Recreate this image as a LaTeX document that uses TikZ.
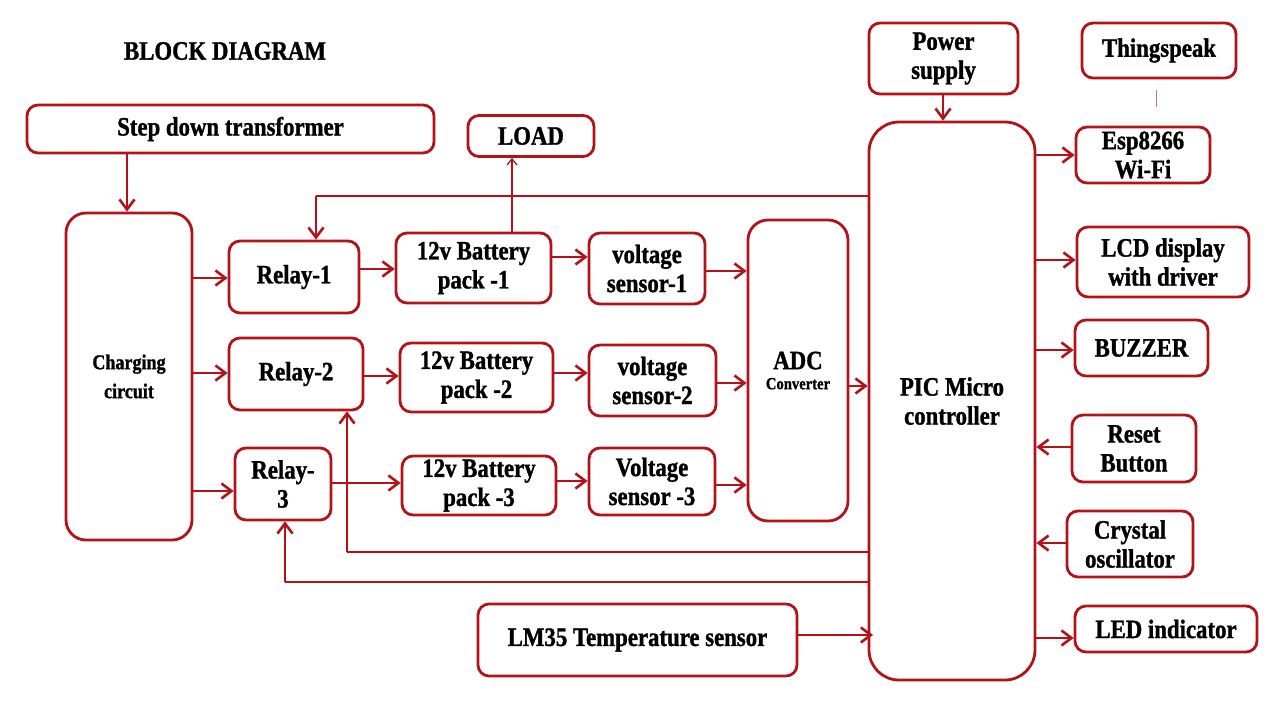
\documentclass[tikz,border=0pt]{standalone}
\usepackage{fontspec}
\setmainfont{Liberation Serif}[BoldFeatures={FakeStretch=0.86,FakeBold=1.2}]
\usetikzlibrary{arrows.meta}
\definecolor{dred}{RGB}{178,18,24}
\begin{document}
\begin{tikzpicture}[x=1pt,y=-1pt,
  box/.style={draw=dred,line width=2.8pt,rounded corners=11pt,inner sep=0pt,align=center,
    font=\bfseries\fontsize{26.5}{29}\selectfont,text=black},
  arr/.style={draw=dred,line width=2.6pt,-{Straight Barb[length=10pt,width=15pt,line width=2.6pt]}},
  thinl/.style={draw=dred,line width=1.3pt},
  thinarr/.style={draw=dred,line width=1.3pt,-{Straight Barb[length=6pt,width=10pt,line width=1.3pt]}}]
\useasboundingbox (0,0) rectangle (1280,720);
\fill[white] (0,0) rectangle (1280,720);

\node[font=\bfseries\fontsize{26.5}{29}\selectfont] (title) at (225,51) {BLOCK DIAGRAM};

\node[box,minimum width=407pt,minimum height=48pt] (step) at (230.5,129) {Step down transformer};
\node[box,minimum width=126pt,minimum height=41pt] (load) at (531,136) {LOAD};
\node[box,minimum width=149pt,minimum height=71pt] (power) at (943.5,58.5) {Power\\supply};
\node[box,minimum width=154pt,minimum height=55pt] (thing) at (1159,50.5) {Thingspeak};
\node[box,minimum width=134pt,minimum height=56pt] (esp) at (1143,155) {Esp8266\\Wi-Fi};
\node[box,rounded corners=20pt,minimum width=126pt,minimum height=327pt] (charge) at (129,376.5) {\fontsize{21}{29}\selectfont Charging\\\fontsize{21}{29}\selectfont circuit};
\node[box,minimum width=130pt,minimum height=72pt] (r1) at (294,277) {Relay-1};
\node[box,minimum width=155pt,minimum height=70pt] (b1) at (473.5,268) {12v Battery\\pack -1};
\node[box,minimum width=116pt,minimum height=71pt] (v1) at (647,268.5) {voltage\\sensor-1};
\node[box,rounded corners=20pt,minimum width=100pt,minimum height=301pt] (adc) at (798,370.5) {ADC\\[-9pt]\fontsize{17}{18}\selectfont Converter};
\node[box,rounded corners=30pt,minimum width=166pt,minimum height=558pt] (pic) at (952,401) {PIC Micro\\controller};
\node[box,minimum width=172pt,minimum height=70pt] (lcd) at (1163,262) {LCD display\\with driver};
\node[box,minimum width=133pt,minimum height=56pt] (buzz) at (1141.5,348) {BUZZER};
\node[box,minimum width=124pt,minimum height=67pt] (reset) at (1134,448.5) {Reset\\Button};
\node[box,minimum width=126pt,minimum height=66pt] (crystal) at (1130,544) {Crystal\\oscillator};
\node[box,minimum width=182pt,minimum height=46pt] (led) at (1166,629) {LED indicator};
\node[box,minimum width=134pt,minimum height=72pt] (r2) at (296,374) {Relay-2};
\node[box,minimum width=153pt,minimum height=69pt] (b2) at (476.5,377.5) {12v Battery\\pack -2};
\node[box,minimum width=127pt,minimum height=71pt] (v2) at (652.5,380.5) {voltage\\sensor-2};
\node[box,minimum width=96pt,minimum height=72pt] (r3) at (283,484) {Relay-\\3};
\node[box,minimum width=154pt,minimum height=59pt] (b3) at (479,485.5) {12v Battery\\pack -3};
\node[box,minimum width=126pt,minimum height=67pt] (v3) at (652,481.5) {Voltage\\sensor -3};
\node[box,minimum width=319pt,minimum height=72pt] (lm) at (637.5,640) {LM35 Temperature sensor};

% arrows
\draw[arr] (step.south -| 127,0) -- (charge.north -| 127,0);
\draw[arr] (charge.east |- 0,278) -- (r1.west |- 0,278);
\draw[arr] (charge.east |- 0,373) -- (r2.west |- 0,373);
\draw[arr] (charge.east |- 0,491) -- (r3.west |- 0,491);
\draw[arr] (r1.east |- 0,269) -- (b1.west |- 0,269);
\draw[arr] (b1.east |- 0,257) -- (v1.west |- 0,257);
\draw[arr] (r2.east |- 0,376) -- (b2.west |- 0,376);
\draw[arr] (b2.east |- 0,373) -- (v2.west |- 0,373);
\draw[arr] (r3.east |- 0,483) -- (b3.west |- 0,483);
\draw[arr] (b3.east |- 0,481) -- (v3.west |- 0,481);
\draw[arr] (v1.east |- 0,271) -- (adc.west |- 0,271);
\draw[arr] (v2.east |- 0,383) -- (adc.west |- 0,383);
\draw[arr] (v3.east |- 0,485) -- (adc.west |- 0,485);
\draw[arr] (adc.east |- 0,386) -- (pic.west |- 0,386);
\draw[arr] (power.south -| 943,0) -- (pic.north -| 943,0);
\draw[arr] (pic.east |- 0,155) -- (esp.west |- 0,155);
\draw[arr] (pic.east |- 0,260) -- (lcd.west |- 0,260);
\draw[arr] (pic.east |- 0,350) -- (buzz.west |- 0,350);
\draw[arr] (reset.west |- 0,447) -- (pic.east |- 0,447);
\draw[arr] (crystal.west |- 0,543) -- (pic.east |- 0,543);
\draw[arr] (pic.east |- 0,638) -- (led.west |- 0,638);
\draw[arr] (lm.east |- 0,635) -- (873,635);

% feedback lines
\coordinate (f1) at (316,196);
\coordinate (f2) at (347,552);
\coordinate (f3) at (285,582);
\draw[thinl] (pic.west |- f1) -- (f1);
\draw[arr] (f1) -- (r1.north -| f1);
\draw[thinl] (pic.west |- f2) -- (f2);
\draw[arr] (f2) -- (r2.south -| f2);
\draw[thinl] (pic.west |- f3) -- (f3);
\draw[arr] (f3) -- (r3.south -| f3);

% load
\draw[thinarr] (b1.north -| 512,0) -- (load.south -| 512,0);
% thingspeak link stub
\coordinate (t1) at (1156,90);
\coordinate (t2) at (1156,107);
\draw[draw=dred!60,line width=0.8pt] (t1) -- (t2);
\end{tikzpicture}
\end{document}
